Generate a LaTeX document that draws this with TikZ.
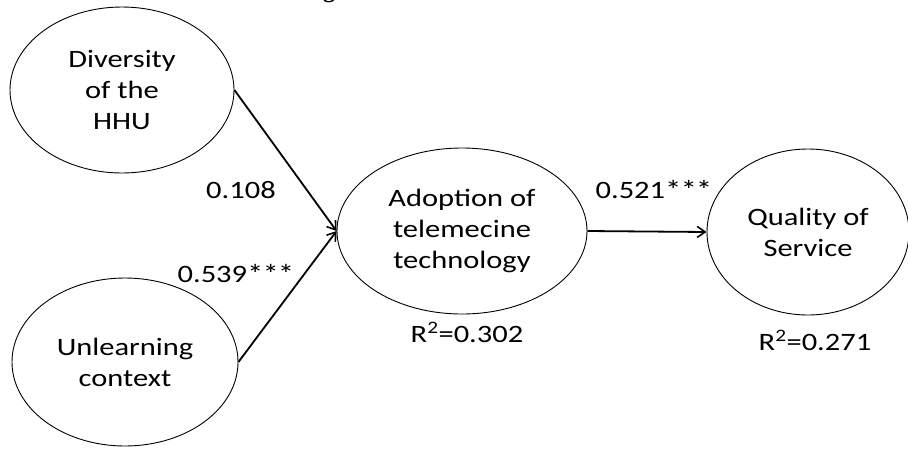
\documentclass[tikz,border=0pt]{standalone}
\usepackage{fontspec}
\setmainfont{Carlito}[FakeStretch=1.22]
\newfontfamily\titlefont{Liberation Serif}
\usetikzlibrary{shapes.geometric,arrows.meta}
\newcommand{\sigstars}{\raisebox{-1pt}{\fontsize{27}{27}\selectfont *\kern-1pt*\kern-1pt*}}
\begin{document}
\begin{tikzpicture}[x=1pt,y=-1pt,
  construct/.style={ellipse,draw,line width=0.9pt,inner sep=0pt,align=center,
    font=\fontsize{25}{31}\selectfont},
  coef/.style={font=\fontsize{25}{31}\selectfont,inner sep=0pt},
  path/.style={line width=1.8pt,-{Straight Barb[length=8pt,width=11pt,line width=1.6pt]}}]
\useasboundingbox (0,0) rectangle (908,448);
\node[anchor=base,font=\titlefont\bfseries\fontsize{24}{28}\selectfont,inner sep=0pt] (title) at (329,-3) {g};
\node[construct,minimum width=224pt,minimum height=166pt] (div) at (122,90) {Diversity\\of the\\HHU};
\node[construct,minimum width=226pt,minimum height=168pt] (unl) at (125,362) {Unlearning\\context};
\node[construct,minimum width=250pt,minimum height=166pt] (ado) at (462,231) {Adoption of\\telemecine\\technology};
\node[construct,minimum width=202pt,minimum height=166pt] (qos) at (808,232) {Quality of\\Service};
\draw[path] (div.east) -- (ado.west);
\draw[path] (unl.east) -- (ado.west);
\draw[path] (ado.east) -- (qos.west);
\node[coef] (c1) at (241,190) {0.108};
\node[coef] (c2) at (236,274) {0.539\sigstars};
\node[coef] (c3) at (654,190) {0.521\sigstars};
\node[coef] (r1) at (467,332) {R\textsuperscript{2}=0.302};
\node[coef] (r2) at (815,340) {R\textsuperscript{2}=0.271};
\end{tikzpicture}
\end{document}
